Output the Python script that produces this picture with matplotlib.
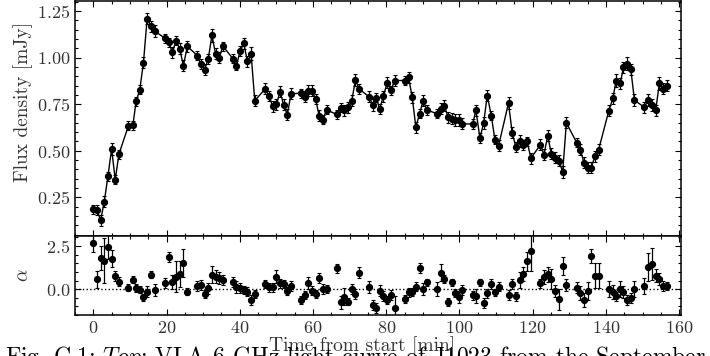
import matplotlib
matplotlib.use("Agg")
import matplotlib.pyplot as plt
from matplotlib.ticker import MultipleLocator

plt.rcParams['font.family'] = ['cmr10', 'DejaVu Serif']
plt.rcParams['mathtext.fontset'] = 'cm'
plt.rcParams['axes.formatter.use_mathtext'] = True

# time from start [min]
time = [0.0, 1.0, 2.0, 3.0, 4.0, 5.0, 6.0, 7.0,
        9.6, 10.8, 11.7, 12.7, 13.7, 14.7, 15.8, 16.8,
        19.6, 20.6, 21.6, 22.6, 23.6, 24.6, 25.7,
        28.4, 29.4, 30.4, 31.4, 32.4, 33.4, 34.4, 35.4,
        38.1, 39.1, 40.1, 41.1, 42.1, 43.1, 44.1,
        47.0, 48.0, 49.0, 50.0, 51.0, 52.0, 53.0, 54.0,
        56.7, 57.7, 58.7, 59.7, 60.7, 61.7, 62.7, 63.7,
        66.5, 67.6, 68.6, 69.6, 70.6, 71.6, 72.6,
        75.3, 76.3, 77.3, 78.2, 79.2, 80.3, 81.3, 82.3,
        85.1, 86.1, 87.1, 88.1, 89.1, 90.1, 91.1,
        93.9, 94.9, 95.9, 96.9, 97.9, 98.9, 99.9, 100.8,
        103.6, 104.5, 105.6, 106.6, 107.6, 108.7, 109.7, 110.7,
        113.4, 114.4, 115.4, 116.5, 117.4, 118.5, 119.5,
        122.1, 123.1, 124.1, 125.1, 126.2, 127.2, 128.2, 129.2,
        132.0, 133.0, 134.0, 135.0, 136.0, 137.0, 138.0,
        140.8, 141.9, 142.8, 143.9, 144.8, 145.8, 146.8, 147.8,
        150.5, 151.5, 152.5, 153.6, 154.6, 155.6, 156.7]

flux = [0.187, 0.182, 0.128, 0.227, 0.363, 0.51, 0.345, 0.482,
        0.634, 0.636, 0.765, 0.828, 0.972, 1.209, 1.167, 1.142,
        1.103, 1.081, 1.029, 1.09, 1.047, 0.957, 1.06,
        1.011, 0.965, 0.936, 0.993, 1.119, 1.02, 0.999, 1.061,
        0.995, 0.957, 1.035, 1.076, 0.979, 1.02, 0.769,
        0.833, 0.794, 0.738, 0.749, 0.817, 0.747, 0.693, 0.807,
        0.808, 0.79, 0.823, 0.823, 0.778, 0.688, 0.667, 0.72,
        0.695, 0.731, 0.717, 0.733, 0.769, 0.88, 0.832,
        0.79, 0.746, 0.785, 0.724, 0.792, 0.866, 0.825, 0.877,
        0.877, 0.894, 0.787, 0.627, 0.699, 0.769, 0.719,
        0.699, 0.726, 0.742, 0.679, 0.672, 0.665, 0.665, 0.645,
        0.643, 0.717, 0.568, 0.649, 0.796, 0.688, 0.559, 0.528,
        0.756, 0.597, 0.521, 0.553, 0.532, 0.55, 0.46,
        0.532, 0.48, 0.58, 0.485, 0.464, 0.446, 0.386, 0.65,
        0.544, 0.507, 0.437, 0.41, 0.41, 0.471, 0.505,
        0.715, 0.781, 0.877, 0.862, 0.947, 0.968, 0.937, 0.772,
        0.733, 0.772, 0.746, 0.717, 0.862, 0.833, 0.85]

flux_err = [0.025, 0.028, 0.03, 0.03, 0.025, 0.03, 0.025, 0.025,
            0.025, 0.025, 0.025, 0.025, 0.03, 0.03, 0.03, 0.03,
            0.025, 0.025, 0.03, 0.025, 0.03, 0.03, 0.03,
            0.025, 0.025, 0.03, 0.025, 0.035, 0.03, 0.03, 0.025,
            0.025, 0.025, 0.025, 0.03, 0.03, 0.035, 0.03,
            0.03, 0.025, 0.03, 0.03, 0.03, 0.03, 0.03, 0.03,
            0.025, 0.03, 0.03, 0.03, 0.025, 0.03, 0.025, 0.025,
            0.025, 0.025, 0.03, 0.03, 0.03, 0.03, 0.025,
            0.03, 0.03, 0.025, 0.025, 0.03, 0.03, 0.025, 0.03,
            0.025, 0.03, 0.03, 0.03, 0.025, 0.03, 0.025,
            0.025, 0.03, 0.03, 0.03, 0.03, 0.03, 0.03, 0.03,
            0.025, 0.03, 0.025, 0.03, 0.03, 0.025, 0.025, 0.03,
            0.03, 0.03, 0.025, 0.03, 0.025, 0.025, 0.03,
            0.03, 0.03, 0.03, 0.03, 0.03, 0.03, 0.03, 0.03,
            0.025, 0.03, 0.03, 0.03, 0.03, 0.03, 0.03,
            0.03, 0.03, 0.035, 0.03, 0.03, 0.035, 0.03, 0.03,
            0.03, 0.03, 0.03, 0.03, 0.035, 0.03, 0.03]

# spectral index
alpha = [2.69, 0.575, 1.81, 1.65, 2.42, 1.77, 0.77, 0.44,
         0.075, 0.56, 0.06, -0.04, -0.48, -0.14, 0.83, -0.04,
         0.36, 1.88, 0.4, 0.73, 0.86, 1.5, -0.16,
         0.19, 0.23, -0.29, 0.04, 0.83, 0.73, 0.63, 0.54,
         0.4, 0.15, 0.06, -0.04, -0.14, -0.62, -0.29,
         0.31, 0.11, 0.11, 0.73, 0.34, 0.31, -0.1, 0.19,
         -0.62, -0.33, 0.34, -0.08, -0.29, 0.65, 0.0, 0.02,
         1.21, -0.77, -0.44, -0.73, 0.0, -0.27, 0.96,
         0.11, -0.93, -1.1, -0.08, -0.39, -0.62, -0.33, -1.1,
         -0.56, -0.19, -0.17, 0.15, 1.21, 0.0, 0.4,
         0.0, 0.96, 0.58, -0.75, 0.4, -0.23, -0.48, -0.04,
         -0.35, -0.39, 0.4, -0.81, -0.25, 0.31, -0.17, 0.15,
         -0.35, 0.29, -0.42, 0.54, 0.88, 1.63, 2.23,
         0.34, 0.69, 0.86, 0.59, -0.08, -0.58, 1.34, 0.25,
         0.09, -0.21, -0.64, -0.1, 1.94, 0.79, 0.79,
         0.0, -0.17, -0.42, 0.0, -0.17, -0.62, -0.52, 0.0,
         0.19, 1.27, 1.46, 0.79, 0.59, 0.19, 0.19]

alpha_err = [0.55, 0.5, 0.7, 1.3, 0.7, 0.5, 0.3, 0.25,
             0.2, 0.2, 0.25, 0.2, 0.2, 0.3, 0.2, 0.35,
             0.3, 0.3, 0.4, 0.9, 0.75, 0.8, 0.2,
             0.3, 0.3, 0.25, 0.3, 0.5, 0.4, 0.35, 0.3,
             0.3, 0.35, 0.3, 0.25, 0.25, 0.3, 0.25,
             0.25, 0.25, 0.25, 0.4, 0.25, 0.25, 0.25, 0.3,
             0.25, 0.25, 0.35, 0.25, 0.25, 0.3, 0.3, 0.25,
             0.25, 0.35, 0.5, 0.2, 0.3, 0.3, 0.3,
             0.35, 0.3, 0.3, 0.3, 0.3, 0.25, 0.3, 0.7,
             0.25, 0.25, 0.25, 0.25, 0.3, 0.35, 0.2,
             0.4, 0.5, 0.25, 0.25, 0.2, 0.25, 0.35, 0.3,
             0.25, 0.4, 0.2, 0.3, 0.25, 0.3, 0.2, 0.25,
             0.3, 0.3, 0.25, 0.45, 0.4, 0.55, 1.2,
             0.25, 0.4, 0.45, 0.6, 0.35, 0.6, 0.5, 0.35,
             0.3, 0.4, 0.4, 0.5, 0.4, 0.75, 0.75,
             0.45, 0.4, 0.25, 0.45, 0.35, 0.3, 0.3, 0.45,
             0.45, 0.8, 0.9, 0.4, 0.35, 0.3, 0.25]

fig = plt.figure(figsize=(7.1, 3.56), dpi=100)
ax = fig.add_axes([0.1056, 0.337, 0.8535, 0.66])
ax2 = fig.add_axes([0.1056, 0.115, 0.8535, 0.222], sharex=ax)

ax.errorbar(time, flux, yerr=flux_err, fmt='o-', color='black', ms=4.2,
            lw=1.0, elinewidth=0.9, capsize=1.6, capthick=0.8)
ax2.errorbar(time, alpha, yerr=alpha_err, fmt='o', color='black', ms=4.2,
             elinewidth=0.9, capsize=1.6, capthick=0.8)
ax2.axhline(0.0, color='black', ls=':', lw=1.0)

ax.set_xlim(-5, 160.5)
ax.set_ylim(0.043, 1.303)
ax2.set_ylim(-1.5, 3.08)

ax.yaxis.set_major_locator(MultipleLocator(0.25))
ax.yaxis.set_minor_locator(MultipleLocator(0.05))
ax.xaxis.set_major_locator(MultipleLocator(20))
ax.xaxis.set_minor_locator(MultipleLocator(5))
ax2.yaxis.set_major_locator(MultipleLocator(2.5))
ax2.yaxis.set_minor_locator(MultipleLocator(0.5))

for a in (ax, ax2):
    a.tick_params(which='both', direction='in', top=True, right=True,
                  labelsize=13, width=0.8, labelcolor='#333333')
    a.tick_params(which='major', length=4)
    a.tick_params(which='minor', length=2)
    for s in a.spines.values():
        s.set_linewidth(1.1)
ax.tick_params(labelbottom=False)

ax.set_ylabel('Flux density [mJy]', fontsize=14, color='#333333')
ax2.set_ylabel(r'$\alpha$', fontsize=14, color='#333333')
ax.yaxis.set_label_coords(-0.069, 0.57)
ax2.yaxis.set_label_coords(-0.07, 0.5)
ax2.set_xlabel('Time from start [min]', fontsize=14, color='#333333')
ax2.xaxis.set_label_coords(0.474, -0.27)

fig.text(0.007, -0.022, r'Fig. C.1: $\mathit{Top}$: VLA 6 GHz light curve of J1023 from the September',
         fontsize=17, va='baseline', ha='left')

fig.savefig('out.png', dpi=100)
